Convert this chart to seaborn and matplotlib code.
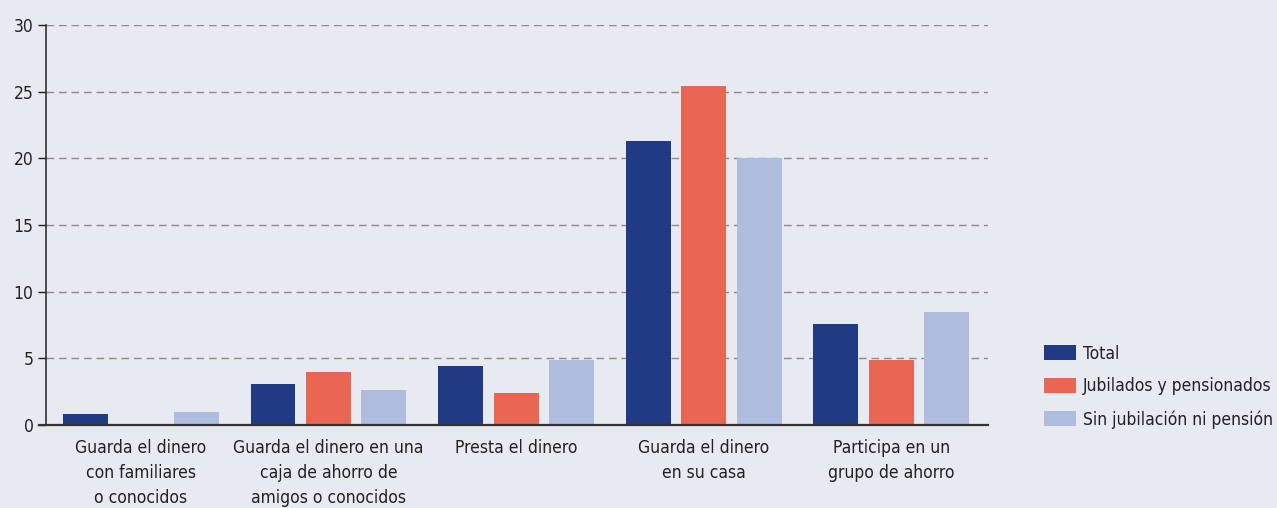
import matplotlib
matplotlib.use("Agg")
import matplotlib.pyplot as plt
import seaborn as sns
import pandas as pd

categories = [
    "Guarda el dinero\ncon familiares\no conocidos",
    "Guarda el dinero en una\ncaja de ahorro de\namigos o conocidos",
    "Presta el dinero",
    "Guarda el dinero\nen su casa",
    "Participa en un\ngrupo de ahorro",
]
series_names = ["Total", "Jubilados y pensionados", "Sin jubilación ni pensión"]
total = [0.8, 3.1, 4.4, 21.3, 7.6]
jubilados = [0.0, 4.0, 2.4, 25.4, 4.9]
sin_jubilacion = [1.0, 2.6, 4.9, 20.0, 8.5]
y_ticks = [0, 5, 10, 15, 20, 25, 30]

colors = ["#213a84", "#e86652", "#aebcdd"]
bg = "#e7eaf0"

sns.set_theme(style="white")
plt.rcParams["font.family"] = ["DejaVu Sans"]
plt.rcParams["font.stretch"] = "condensed"

rows = []
for name, vals in zip(series_names, [total, jubilados, sin_jubilacion]):
    for cat, v in zip(categories, vals):
        rows.append({"categoria": cat, "grupo": name, "valor": v})
df = pd.DataFrame(rows)

fig = plt.figure(figsize=(12.77, 5.08), dpi=100, facecolor=bg)
ax = fig.add_axes([46 / 1277, 83 / 508, (988 - 46) / 1277, 400 / 508])
ax.set_facecolor(bg)

sns.barplot(data=df, x="categoria", y="valor", hue="grupo",
            order=categories, hue_order=series_names, palette=colors,
            width=0.886, gap=0.19, saturation=1, ax=ax, legend=True,
            edgecolor="none", linewidth=0)

ax.set_xlim(-0.505, 4.515)
ax.set_ylim(0, 30)
ax.set_yticks(y_ticks)
ax.set_yticklabels([str(t) for t in y_ticks], fontsize=12.5, color="#222222")
ax.tick_params(axis="y", length=6, width=1, color="#222222", pad=3, left=True)
ax.tick_params(axis="x", length=0, pad=10, labelsize=12.5, labelcolor="#222222")
for lbl in ax.get_xticklabels():
    lbl.set_linespacing(1.5)
ax.set_xlabel("")
ax.set_ylabel("")

for t in y_ticks[1:]:
    ax.axhline(t, color="#8c8c8c", lw=1, ls=(0, (5.5, 3.5)), zorder=0.5)

for side in ["top", "right"]:
    ax.spines[side].set_visible(False)
ax.spines["left"].set_color("#222222")
ax.spines["bottom"].set_color("#333333")
ax.spines["left"].set_linewidth(1.1)
ax.spines["bottom"].set_linewidth(1.6)
ax.spines["bottom"].set_bounds(-0.505 - 7 / 188, 4.515)
ax.spines["bottom"].set_clip_on(False)

handles, labels = ax.get_legend_handles_labels()
ax.get_legend().remove()
fig.legend(handles, labels, loc="upper left",
           bbox_to_anchor=(1028 / 1277, 1 - 329 / 508),
           frameon=False, fontsize=12.5, handlelength=1.85, handleheight=0.9,
           handletextpad=0.4, labelspacing=0.85, labelcolor="#222222")

fig.savefig("out.png", dpi=100, facecolor=bg)
